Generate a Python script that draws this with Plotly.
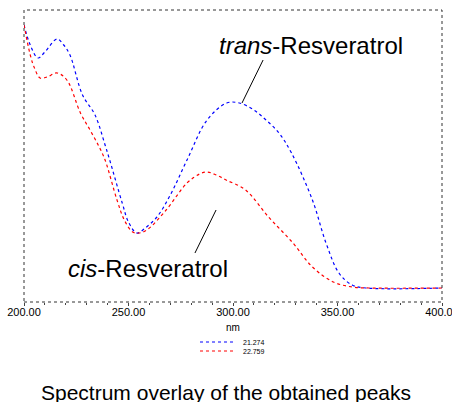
import plotly.graph_objects as go

trans_nm = [200, 203, 206.7, 210, 215.8, 219, 222, 228, 234, 238.8, 241, 247, 250, 254, 258, 263.6, 270, 278,
            287.6, 297, 303, 310, 315.8, 322, 328, 338, 344.5, 350.7, 357, 363.6, 400]
trans_abs = [263, 243, 230, 236, 249, 243, 233, 193, 173, 143, 128, 85, 66, 55, 60, 71, 93, 128,
             168, 185, 185, 178, 168, 155, 135, 88, 45, 15, 3, 0, 0]

cis_nm = [200, 203, 205, 207.7, 211, 215.8, 220.5, 227, 231.6, 236, 238.8, 244.5, 248, 252, 255, 258.8, 268, 278,
          284, 287.6, 292, 296.7, 306, 317, 328.7, 338, 348, 357, 365, 400]
cis_abs = [263, 233, 220, 210, 211, 215, 208, 175, 158, 141, 128, 88, 68, 56, 55, 58, 78, 105,
           114, 116, 113, 108, 98, 71, 45, 21, 6, 1, 0, 0]

legend_labels = ["21.274", "22.759"]
colors = ["#0000ff", "#ff0000"]
tick_vals = [200, 250, 300, 350, 400]
tick_text = ["200.00", "250.00", "300.00", "350.00", "400.00"]

FONT = "Liberation Sans, Arial, sans-serif"

fig = go.Figure()
fig.add_trace(go.Scatter(x=trans_nm, y=trans_abs, mode="lines", line=dict(color=colors[0], dash="dot", width=1.2, shape="spline"),
                         name=legend_labels[0], showlegend=False))
fig.add_trace(go.Scatter(x=cis_nm, y=cis_abs, mode="lines", line=dict(color=colors[1], dash="dot", width=1.2, shape="spline"),
                         name=legend_labels[1], showlegend=False))

# border
border = dict(color="#333333", width=1, dash="dot")
fig.add_shape(type="rect", xref="paper", yref="paper", x0=0, y0=0, x1=1, y1=1, line=border, layer="above")

# pointer lines
fig.add_shape(type="line", xref="x", yref="y", x0=314.4, y0=228, x1=304.3, y1=185, line=dict(color="black", width=1))
fig.add_shape(type="line", xref="x", yref="y", x0=291.9, y0=78, x1=281.8, y1=35, line=dict(color="black", width=1))

fig.add_annotation(x=337.3, y=243, xref="x", yref="y", text="<i>trans</i>-Resveratrol", showarrow=False,
                   font=dict(family=FONT, size=24, color="black"))
fig.add_annotation(x=259.3, y=20, xref="x", yref="y", text="<i>cis</i>-Resveratrol", showarrow=False,
                   font=dict(family=FONT, size=24, color="black"))

# axis title
fig.add_annotation(x=0.5, y=-(327 - 302) / 292, xref="paper", yref="paper", text="nm", showarrow=False,
                   yanchor="middle", font=dict(family=FONT, size=10, color="black"))

# manual legend
for i, (lab, col) in enumerate(zip(legend_labels, colors)):
    yy = -(342 - 302 + i * 9) / 292
    fig.add_shape(type="line", xref="paper", yref="paper", x0=(200 - 24) / 418, x1=(233 - 24) / 418, y0=yy, y1=yy,
                  line=dict(color=col, width=1, dash="dot"))
    fig.add_annotation(x=(241 - 24) / 418, y=yy, xref="paper", yref="paper", text=lab, showarrow=False,
                       xanchor="left", yanchor="middle", font=dict(family=FONT, size=7, color="black"))

# caption
fig.add_annotation(x=(226 - 24) / 418, y=-(392 - 302) / 292, xref="paper", yref="paper",
                   text="Spectrum overlay of the obtained peaks", showarrow=False, yanchor="middle",
                   font=dict(family=FONT, size=21, color="black"))

fig.update_xaxes(range=[200, 400], tickvals=tick_vals, ticktext=tick_text, showgrid=False, zeroline=False,
                 ticks="outside", ticklen=3, tickcolor="#444444", tickfont=dict(family=FONT, size=11, color="black"),
                 ticklabelstandoff=-3, ticklabeloverflow="allow", automargin=False,
                 minor=dict(dtick=10, ticks="outside", ticklen=2, tickcolor="#444444"), showline=False)
fig.update_yaxes(range=[-14, 278], showticklabels=False, showgrid=False, zeroline=False, ticks="", showline=False,
                 automargin=False)

fig.update_layout(width=452, height=402, margin=dict(l=24, r=10, t=10, b=100, autoexpand=False), plot_bgcolor="white",
                  paper_bgcolor="white", showlegend=False)

fig.write_html("out.html")
